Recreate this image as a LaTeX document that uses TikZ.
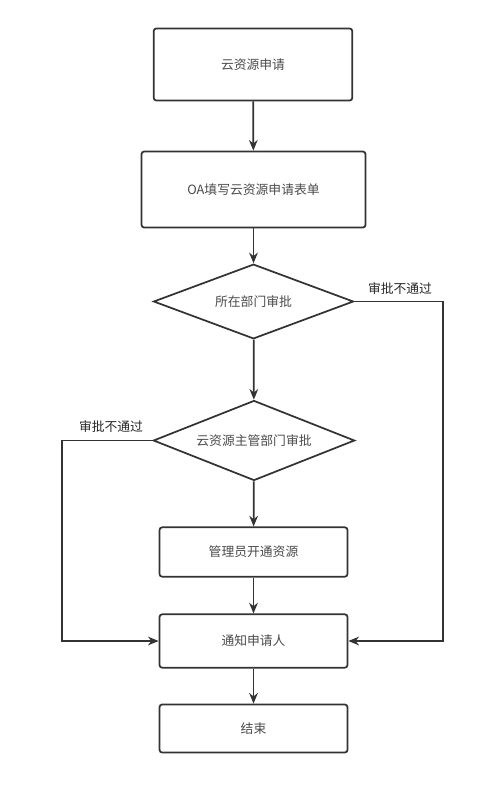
\documentclass[tikz,border=0pt]{standalone}
\usepackage{fontspec}
\newfontfamily\cjk{Noto Sans CJK SC}
\usetikzlibrary{shapes.geometric,arrows.meta}
\definecolor{linegray}{HTML}{333333}
\definecolor{textgray}{HTML}{4A4A4A}
\tikzset{
  procbox/.style={draw=linegray, line width=1.3pt, rounded corners=2pt, minimum width=141pt,
    font=\cjk\fontsize{9.6}{11}\selectfont, text=textgray},
  decide/.style={diamond, aspect=2.6, draw=linegray, line width=1.3pt, inner sep=0pt,
    font=\cjk\fontsize{9.6}{11}\selectfont, text=textgray},
  flow/.style={draw=linegray, line width=1.3pt, -{Stealth[length=8pt,width=6.5pt]}},
  note/.style={font=\cjk\fontsize{9.6}{11}\selectfont, text=black!85}
}
\begin{document}
\begin{tikzpicture}[x=0.75pt,y=-0.75pt]
\useasboundingbox (0,0) rectangle (498,785);
% main column
\node[procbox, minimum width=149pt, minimum height=54pt] (apply) at (253,64.5) {云资源申请};
\node[procbox, minimum width=168pt, minimum height=57pt] (form) at (253.5,189.5) {OA填写云资源申请表单};
\node[decide, minimum width=150pt, minimum height=56pt] (dept) at (253.5,301.5) {所在部门审批};
\node[decide, minimum width=151pt, minimum height=60pt] (owner) at (254,440.5) {云资源主管部门审批};
\node[procbox, minimum height=37pt] (open) at (253.5,552) {管理员开通资源};
\node[procbox, minimum height=40pt] (notify) at (253.5,641) {通知申请人};
\node[procbox, minimum height=36pt] (done) at (253.5,728.5) {结束};
% turn points of the reject paths
\coordinate (rturn) at (443,641);
\coordinate (lturn) at (62,641);
\draw[flow] (apply) -- (form);
\draw[flow] (form) -- (dept);
\draw[flow] (dept) -- (owner);
\draw[flow] (owner) -- (open);
\draw[flow] (open) -- (notify);
\draw[flow] (notify) -- (done);
\draw[flow] (dept.east) -| (rturn) -- (notify.east);
\draw[flow] (owner.west) -| (lturn) -- (notify.west);
\node[note] (rejright) at (400,289) {审批不通过};
\node[note] (rejleft) at (111,427) {审批不通过};
\end{tikzpicture}
\end{document}
